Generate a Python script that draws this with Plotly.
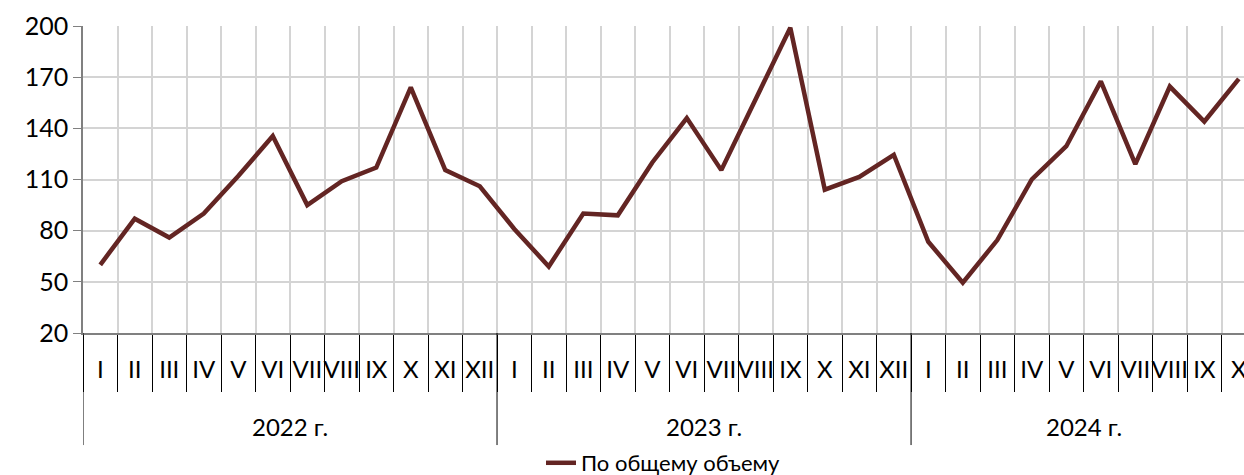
import plotly.graph_objects as go

months = ["I", "II", "III", "IV", "V", "VI", "VII", "VIII", "IX", "X", "XI", "XII"]
years = ["2022 г.", "2023 г.", "2024 г."]
months_per_year = [12, 12, 10]

values_2022 = [60, 87, 76, 90, 112, 135.5, 95, 109, 117, 164, 115.5, 106]
values_2023 = [81, 59, 90, 89, 120, 146, 115.5, 158, 199, 104, 111.5, 124.5]
values_2024 = [73.5, 49.5, 74.5, 110, 129.5, 167.5, 119, 164.5, 144, 169]

series_name = "По общему объему"

# category positions (index-based)
month_labels = []
for n in months_per_year:
    month_labels += months[:n]
y_vals = values_2022 + values_2023 + values_2024
n_total = len(y_vals)
x_idx = list(range(n_total))
boundaries = [i - 0.5 for i in range(n_total + 1)]

year_bounds = []
start = 0
for n in months_per_year:
    year_bounds.append((start, start + n - 1))
    start += n

font_family = "Lato, 'Open Sans', sans-serif"

W, H = 1244, 475
ML, MT, PH = 83, 26, 307
MB = H - MT - PH

fig = go.Figure()
fig.add_trace(go.Scatter(
    x=x_idx, y=y_vals, mode="lines", name=series_name,
    line=dict(color="#632523", width=4.5),
))

yr_div = -0.365
for (a, b), yname in zip(year_bounds, years):
    fig.add_annotation(x=(a + b) / 2, y=-0.305, xref="x", yref="paper",
                       text=yname, showarrow=False, font=dict(size=24),
                       xanchor="center", yanchor="middle")
    fig.add_shape(type="line", xref="x", yref="paper", x0=a - 0.5, x1=a - 0.5,
                  y0=0, y1=yr_div, line=dict(color="black", width=1))
fig.add_shape(type="line", xref="x", yref="paper", x0=n_total - 0.5, x1=n_total - 0.5,
              y0=0, y1=yr_div, line=dict(color="black", width=1))

fig.update_layout(
    width=W, height=H,
    margin=dict(l=ML, r=0, t=MT, b=MB, autoexpand=False),
    plot_bgcolor="white", paper_bgcolor="white",
    font=dict(family=font_family, size=20, color="black"),
    showlegend=True,
    legend=dict(orientation="h", x=0.5, xanchor="center", y=-0.355, yanchor="top",
                font=dict(size=22), tracegroupgap=0),
    xaxis=dict(
        automargin=False,
        range=[-0.5, n_total - 0.5 - 0.35],
        tickmode="array", tickvals=x_idx, ticktext=month_labels, tickangle=0,
        ticks="", showgrid=False, zeroline=False,
        ticklabelstandoff=14, ticklabeloverflow="allow",
        showline=True, linecolor="#808080", linewidth=1.5,
        tickfont=dict(size=24),
        minor=dict(tickmode="array", tickvals=boundaries, ticks="outside", ticklen=57,
                   tickcolor="black", tickwidth=1, showgrid=True,
                   gridcolor="#d4d4d4", gridwidth=1.5),
    ),
    yaxis=dict(
        automargin=False,
        range=[20, 200], tickvals=list(range(20, 201, 30)),
        showgrid=True, gridcolor="#d4d4d4", gridwidth=1.5,
        ticks="outside", ticklen=8, tickcolor="#808080",
        showline=True, linecolor="#808080", linewidth=1.5,
        tickfont=dict(size=25), zeroline=False,
    ),
)

fig.write_html(
    "out.html",
    config={"displayModeBar": False},
    post_script="document.documentElement.style.overflow='hidden';"
                "document.body.style.margin='0';document.body.style.overflow='hidden';",
)
